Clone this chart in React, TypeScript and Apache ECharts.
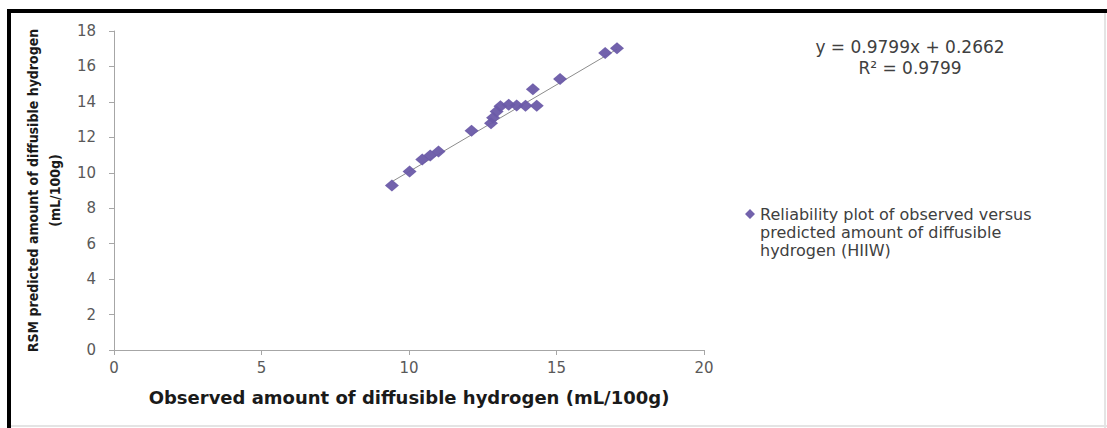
import React, { useEffect, useRef } from "react";
import * as echarts from "echarts";

const observed = [9.42, 10.02, 10.45, 10.72, 11.0, 12.12, 12.78, 12.85, 12.97, 13.1, 13.38, 13.65, 13.95, 14.33, 14.2, 15.12, 16.65, 17.05];
const predicted = [9.28, 10.07, 10.75, 10.98, 11.2, 12.37, 12.8, 13.1, 13.46, 13.75, 13.84, 13.8, 13.78, 13.78, 14.72, 15.29, 16.76, 17.02];
const xTicks = [0, 5, 10, 15, 20];
const yTicks = [0, 2, 4, 6, 8, 10, 12, 14, 16, 18];
const slope = 0.9799;
const intercept = 0.2662;
const rSquared = 0.9799;
const seriesName = "Reliability plot of observed versus\npredicted amount of diffusible\nhydrogen (HIIW)";

export default function App() {
  const ref = useRef<HTMLDivElement>(null);
  useEffect(() => {
    document.body.style.margin = "0";
    if (!ref.current) return;
    const chart = echarts.init(ref.current, undefined, { renderer: "svg" });
    const pts = observed.map((x, i) => [x, predicted[i]]);
    const xMin = Math.min(...observed);
    const xMax = Math.max(...observed);
    const trend = [
      [xMin, slope * xMin + intercept],
      [xMax, slope * xMax + intercept],
    ];
    const axisLabel = { color: "#595959", fontSize: 15, fontFamily: "DejaVu Sans" };
    chart.setOption({
      animation: false,
      backgroundColor: "#ffffff",
      grid: { left: 114, right: 403, top: 31, bottom: 78 },
      xAxis: {
        type: "value",
        min: xTicks[0],
        max: xTicks[xTicks.length - 1],
        interval: 5,
        name: "Observed amount of diffusible hydrogen (mL/100g)",
        nameLocation: "middle",
        nameGap: 38,
        nameTextStyle: { fontWeight: "bold", fontSize: 18, color: "#1a1a1a", fontFamily: "DejaVu Sans" },
        axisLine: { show: true, lineStyle: { color: "#a6a6a6" } },
        axisTick: { show: true, length: 5, lineStyle: { color: "#a6a6a6" } },
        axisLabel: { ...axisLabel, margin: 10 },
        splitLine: { show: false },
      },
      yAxis: {
        type: "value",
        min: yTicks[0],
        max: yTicks[yTicks.length - 1],
        interval: 2,
        name: "RSM predicted amount of diffusible hydrogen\n(mL/100g)",
        nameLocation: "middle",
        nameGap: 46,
        nameTextStyle: { fontWeight: "bold", fontSize: 14, color: "#1a1a1a", fontFamily: "DejaVu Sans Condensed", lineHeight: 22 },
        axisLine: { show: true, lineStyle: { color: "#a6a6a6" } },
        axisTick: { show: true, length: 5, lineStyle: { color: "#a6a6a6" } },
        axisLabel: { ...axisLabel, margin: 18 },
        splitLine: { show: false },
      },
      legend: {
        left: 740,
        top: 200,
        orient: "vertical",
        data: [{ name: seriesName, icon: "path://M5,0 L10,5 L5,10 L0,5 Z M0,46 L0.01,46 L0,46 Z" }],
        itemWidth: 10,
        itemHeight: 46,
        itemGap: 4,
        textStyle: { fontSize: 16, color: "#404040", fontFamily: "DejaVu Sans", lineHeight: 18 },
      },
      graphic: [
        { type: "rect", shape: { x: 7, y: 9, width: 1100, height: 4 }, style: { fill: "#000" } },
        { type: "rect", shape: { x: 7, y: 9, width: 4, height: 419 }, style: { fill: "#000" } },
        { type: "rect", shape: { x: 1104, y: 13, width: 2, height: 415 }, style: { fill: "#e4e4e4" } },
        { type: "rect", shape: { x: 11, y: 425, width: 1096, height: 2 }, style: { fill: "#e4e4e4" } },
        {
          type: "text",
          x: 910,
          y: 47,
          style: { text: `y = ${slope}x + ${intercept}`, fontSize: 17, fill: "#404040", fontFamily: "DejaVu Sans", align: "center", verticalAlign: "middle" },
        },
        {
          type: "text",
          x: 910,
          y: 68,
          style: { text: `R² = ${rSquared}`, fontSize: 17, fill: "#404040", fontFamily: "DejaVu Sans", align: "center", verticalAlign: "middle" },
        },
      ],
      series: [
        {
          name: "trend",
          type: "line",
          data: trend,
          showSymbol: false,
          symbol: "none",
          lineStyle: { color: "#8c8c8c", width: 1 },
          z: 1,
          silent: true,
        },
        {
          name: seriesName,
          type: "scatter",
          data: pts,
          symbol: "diamond",
          symbolSize: [14, 12],
          itemStyle: { color: "#6a5aa8", opacity: 0.95 },
          z: 2,
        },
      ],
    });
    return () => chart.dispose();
  }, []);
  return <div ref={ref} style={{ width: 1107, height: 428 }} />;
}
